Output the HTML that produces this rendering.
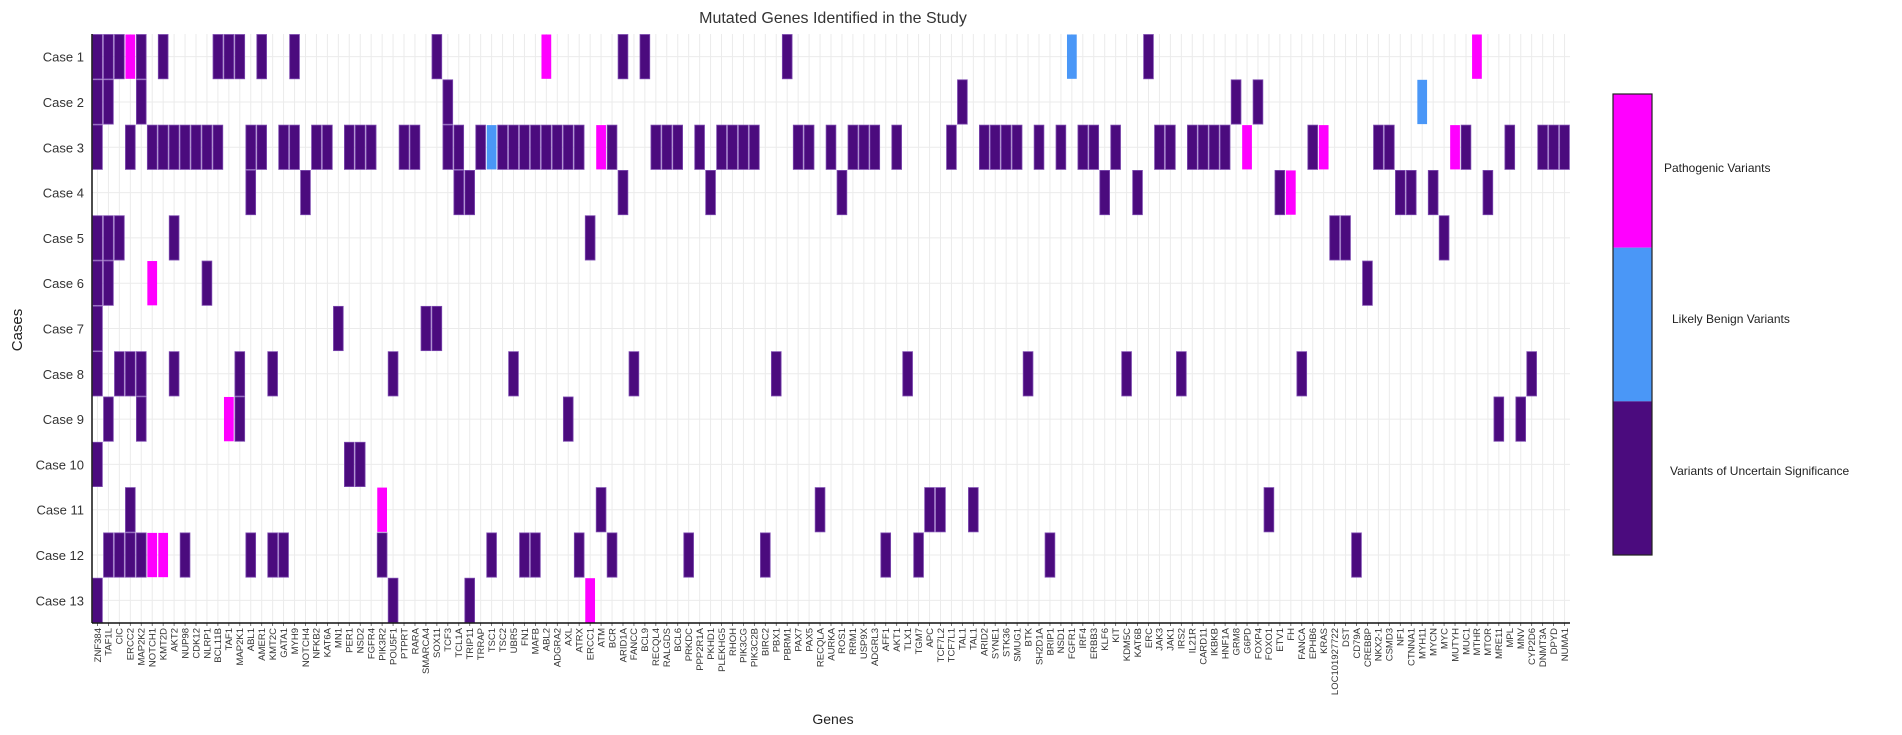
<!DOCTYPE html>
<html><head><meta charset="utf-8"><style>
html,body{margin:0;padding:0;background:#fff;}
svg{display:block;font-family:"Liberation Sans",sans-serif;}
</style></head><body>
<svg id="chart" width="1902" height="735" viewBox="0 0 1902 735">
<text x="833" y="23" text-anchor="middle" font-size="16" fill="#333">Mutated Genes Identified in the Study</text>
<text x="0" y="0" transform="translate(22,330) rotate(-90)" text-anchor="middle" font-size="15" fill="#222">Cases</text>
<text x="833" y="724" text-anchor="middle" font-size="14" fill="#222">Genes</text>
<g id="grid"></g>
<g id="cells"></g>
<g id="axes"></g>
<g id="legend"></g>
</svg>
<script>
const cases = ["Case 1","Case 2","Case 3","Case 4","Case 5","Case 6","Case 7","Case 8","Case 9","Case 10","Case 11","Case 12","Case 13"];
const genes = ["ZNF384","TAF1L","CIC","ERCC2","MAP2K2","NOTCH1","KMT2D","AKT2","NUP98","CDK12","NLRP1","BCL11B","TAF1","MAP2K1","ABL1","AMER1","KMT2C","GATA1","MYH9","NOTCH4","NFKB2","KAT6A","MN1","PER1","NSD2","FGFR4","PIK3R2","POU5F1","PTPRT","RARA","SMARCA4","SOX11","TCF3","TCL1A","TRIP11","TRRAP","TSC1","TSC2","UBR5","FN1","MAFB","ABL2","ADGRA2","AXL","ATRX","ERCC1","ATM","BCR","ARID1A","FANCC","BCL9","RECQL4","RALGDS","BCL6","PRKDC","PPP2R1A","PKHD1","PLEKHG5","RHOH","PIK3CG","PIK3C2B","BIRC2","PBX1","PBRM1","PAX7","PAX5","RECQLA","AURKA","ROS1","RRM1","USP9X","ADGRL3","AFF1","AKT1","TLX1","TGM7","APC","TCF7L2","TCF7L1","TAL1","TAL1","ARID2","SYNE1","STK36","SMUG1","BTK","SH2D1A","BRIP1","NSD1","FGFR1","IRF4","ERBB3","KLF6","KIT","KDM5C","KAT6B","ERC","JAK3","JAK1","IRS2","IL21R","CARD11","IKBKB","HNF1A","GRM8","G6PD","FOXP4","FOXO1","ETV1","FH","FANCA","EPHB6","KRAS","LOC101927722","DST","CD79A","CREBBP","NKX2-1","CSMD3","NF1","CTNNA1","MYH11","MYCN","MYC","MUTYH","MUC1","MTHR","MTOR","MRE11","MPL","MNV","CYP2D6","DNMT3A","DPYD","NUMA1"];
const categories = ["Pathogenic Variants","Likely Benign Variants","Variants of Uncertain Significance"];
// [caseIndex, geneIndex]
const pathogenicCells = [[0,3],[0,41],[0,126],[2,46],[2,105],[2,112],[2,124],[3,109],[5,5],[8,12],[10,26],[11,5],[11,6],[12,45]];
const benignCells = [[0,89],[1,121],[2,36]];
const vusRows = [
 [0,1,2,4,6,11,12,13,15,18,31,48,50,63,96],
 [0,1,4,32,79,104,106],
 [0,3,5,6,7,8,9,10,11,14,15,17,18,20,21,23,24,25,28,29,32,33,35,37,38,39,40,41,42,43,44,47,51,52,53,55,57,58,59,60,64,65,67,69,70,71,73,78,81,82,83,84,86,88,90,91,93,97,98,100,101,102,103,111,117,118,125,129,132,133,134],
 [14,19,33,34,48,56,68,92,95,108,119,120,122,127],
 [0,1,2,7,45,113,114,123],
 [0,1,10,116],
 [0,22,30,31],
 [0,2,3,4,7,13,16,27,38,49,62,74,85,94,99,110,131],
 [1,4,13,43,128,130],
 [0,23,24],
 [3,46,66,76,77,80,107],
 [1,2,3,4,8,14,16,17,26,36,39,40,44,47,54,61,72,75,87,115],
 [0,27,34]
];
const colors = {P:"#ff00ff", B:"#4a97f7", V:"#4b0b7e"};
const NS = "http://www.w3.org/2000/svg";
const L=92, R=1570, T=34, B=623;
const cw=(R-L)/genes.length, rh=(B-T)/cases.length;
const xOf = i => L + i*cw;
const yOf = r => T + r*rh;
function mk(tag, attrs, parent){const e=document.createElementNS(NS,tag);for(const k in attrs)e.setAttribute(k,attrs[k]);parent.appendChild(e);return e;}
const grid=document.getElementById('grid'), cells=document.getElementById('cells'), axes=document.getElementById('axes'), legend=document.getElementById('legend');
genes.forEach((g,i)=>{
  const x=xOf(i)+cw/2;
  const gl=mk('line',{x1:x,x2:x,y1:T,y2:B,stroke:'#ebebeb','stroke-width':1},grid);
  
  
  const tk=mk('line',{x1:x,x2:x,y1:B,y2:B+3,stroke:'#555','stroke-width':0.8},axes);
  
  
  const t=mk('text',{transform:`translate(${x+3.3},${B+5}) rotate(-90)`,'text-anchor':'end','font-size':9.5,fill:'#333'},axes);
  t.textContent=g;
  
  
});
cases.forEach((c,r)=>{
  const y=yOf(r)+rh/2;
  const gl=mk('line',{x1:L,x2:R,y1:y,y2:y,stroke:'#ebebeb','stroke-width':1},grid);
  
  
  const t=mk('text',{x:L-8,y:y+5,'text-anchor':'end','font-size':13,fill:'#333'},axes);
  t.textContent=c;
  
  
});
function cell(r,g,type){
  const rc=mk('rect',{x:xOf(g)+0.6,y:yOf(r)+0.5,width:cw-1.2,height:rh-1,fill:colors[type],stroke:type==='V'?'#7d4bb0':'none','stroke-width':0.8},cells);
  
  
}
vusRows.forEach((arr,r)=>arr.forEach(g=>cell(r,g,'V')));
pathogenicCells.forEach(([r,g])=>cell(r,g,'P'));
benignCells.forEach(([r,g])=>cell(r,g,'B'));
const sp1=mk('line',{x1:L,x2:L,y1:T,y2:B,stroke:'#111','stroke-width':1.5},axes);


const sp2=mk('line',{x1:L,x2:R,y1:B,y2:B,stroke:'#111','stroke-width':1.5},axes);


// colorbar
const cbX=1613, cbW=39, cbT=94, cbB=555, segH=(cbB-cbT)/3;
const segColors=[colors.P,colors.B,colors.V];
const labelPos=[[1664,172],[1672,323],[1670,475]];
categories.forEach((cat,i)=>{
  const s=mk('rect',{x:cbX,y:cbT+i*segH,width:cbW,height:segH,fill:segColors[i]},legend);
  
  
  const t=mk('text',{x:labelPos[i][0],y:labelPos[i][1],'font-size':12,fill:'#222'},legend);
  t.textContent=cat;
  
  
});
const fr=mk('rect',{x:cbX,y:cbT,width:cbW,height:cbB-cbT,fill:'none',stroke:'#222','stroke-width':1.2},legend);


</script>
</body></html>
